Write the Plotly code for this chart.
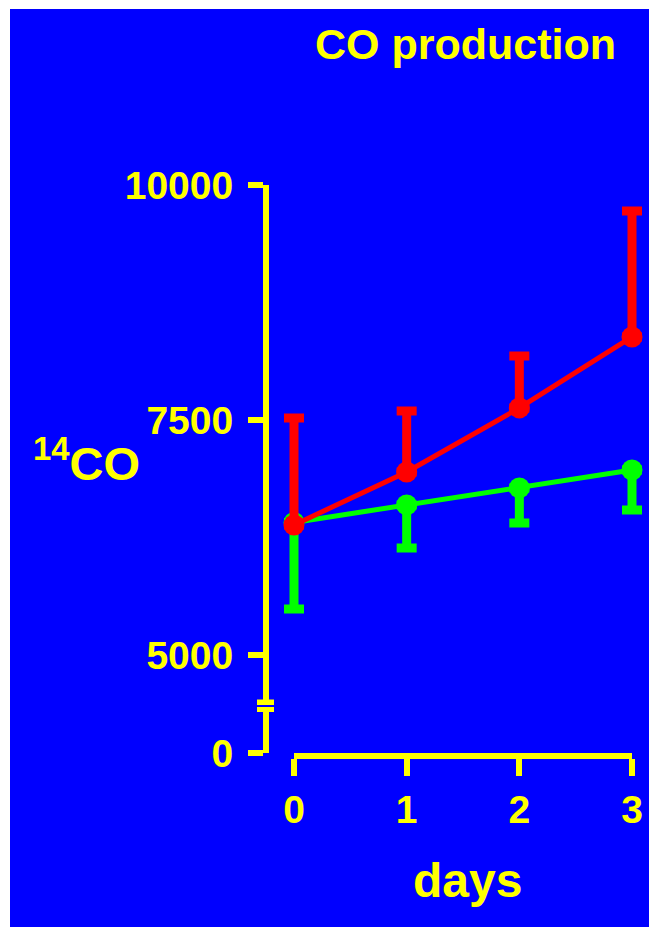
import plotly.graph_objects as go

# ---------------- data ----------------
days = [0, 1, 2, 3]
red_mean = [6383, 6947, 7628, 8383]
red_err_up = [1138, 649, 553, 1340]
green_mean = [6410, 6596, 6777, 6968]
green_err_down = [920, 458, 373, 425]

x_tick_vals = [0, 1, 2, 3]
x_tick_text = ["0", "1", "2", "3"]
# broken y axis: the "0" tick sits at the bottom of the axis, below the break
Y_ZERO_POS = 3957
y_tick_vals = [Y_ZERO_POS, 5000, 7500, 10000]
y_tick_text = ["0", "5000", "7500", "10000"]

title_text = "CO production"
x_title = "days"
y_title = "<sup>14</sup>CO"

# ---------------- layout geometry (page pixels) ----------------
PAGE_W, PAGE_H = 657, 927
OFF = 8                      # default body margin of the html page
W, H = PAGE_W - OFF, PAGE_H - OFF
PLOT_L, PLOT_R, PLOT_T, PLOT_B = 269, 654, 185, 753   # page px
L, R, T, B = PLOT_L - OFF, PAGE_W - PLOT_R, PLOT_T - OFF, PAGE_H - PLOT_B
PW, PH = PLOT_R - PLOT_L, PLOT_B - PLOT_T
X0_PX, X3_PX = 294, 632      # page px of day 0 and day 3

def px_x(p):
    return (p - PLOT_L) / PW

def px_y(q):
    return (PLOT_B - q) / PH

unit = (X3_PX - X0_PX) / 3
x_lo = -(X0_PX - PLOT_L) / unit
x_hi = 3 + (PLOT_R - X3_PX) / unit

BLUE = "#0000FF"
YEL = "#FFFF00"
RED = "#FF0000"
GRN = "#00FF00"
FONT = "Liberation Sans, Arial, sans-serif"

fig = go.Figure()

# empty trace so that the (shorter) day axis gets drawn
fig.add_trace(go.Scatter(x=[], y=[], xaxis="x2", yaxis="y",
                         showlegend=False, hoverinfo="skip"))
fig.add_trace(go.Scatter(
    x=days, y=green_mean, mode="lines+markers",
    line=dict(color=GRN, width=5),
    marker=dict(color=GRN, size=21),
    error_y=dict(type="data", symmetric=False, array=[0, 0, 0, 0],
                 arrayminus=green_err_down, color=GRN, thickness=9, width=10),
    showlegend=False, cliponaxis=False, hoverinfo="x+y",
))
fig.add_trace(go.Scatter(
    x=days, y=red_mean, mode="lines+markers",
    line=dict(color=RED, width=5),
    marker=dict(color=RED, size=21),
    error_y=dict(type="data", symmetric=False, array=red_err_up,
                 arrayminus=[0, 0, 0, 0], color=RED, thickness=9, width=10),
    showlegend=False, cliponaxis=False, hoverinfo="x+y",
))

tickfont = dict(family=FONT, size=39, color=YEL, weight="bold")

shapes = [
    # blue panel
    dict(type="rect", xref="paper", yref="paper", layer="below",
         x0=px_x(10), x1=px_x(PAGE_W + 5), y0=px_y(PAGE_H + 5), y1=px_y(9),
         fillcolor=BLUE, line=dict(width=0)),
    # axis break
    dict(type="rect", xref="paper", yref="paper", layer="above",
         x0=px_x(255), x1=px_x(275), y0=px_y(708), y1=px_y(704),
         fillcolor=BLUE, line=dict(width=0)),
    dict(type="rect", xref="paper", yref="paper", layer="above",
         x0=px_x(257), x1=px_x(274), y0=px_y(705), y1=px_y(699.5),
         fillcolor=YEL, line=dict(width=0)),
    dict(type="rect", xref="paper", yref="paper", layer="above",
         x0=px_x(257), x1=px_x(274), y0=px_y(712), y1=px_y(707),
         fillcolor=YEL, line=dict(width=0)),
]

annotations = [
    dict(text=title_text, xref="paper", yref="paper", x=px_x(465), y=px_y(44),
         xanchor="center", yanchor="middle", showarrow=False,
         font=dict(family=FONT, size=43, color=YEL, weight="bold")),
    dict(text=x_title, xref="paper", yref="paper", x=px_x(467), y=px_y(880),
         xanchor="center", yanchor="middle", showarrow=False,
         font=dict(family=FONT, size=48, color=YEL, weight="bold")),
    dict(text=y_title, xref="paper", yref="paper", x=px_x(31), y=px_y(460),
         xanchor="left", yanchor="middle", showarrow=False,
         font=dict(family=FONT, size=47, color=YEL, weight="bold")),
]

fig.update_layout(
    width=W, height=H,
    margin=dict(l=L, r=R, t=T, b=B, pad=0),
    paper_bgcolor="white", plot_bgcolor="rgba(0,0,0,0)",
    xaxis=dict(range=[x_lo, x_hi], visible=False, fixedrange=True),
    xaxis2=dict(domain=[px_x(X0_PX), px_x(X3_PX)], range=[0, 3], anchor="y",
                side="bottom", showline=True, linecolor=YEL, linewidth=6,
                ticks="outside", ticklen=17, tickwidth=6, tickcolor=YEL,
                tickvals=x_tick_vals, ticktext=x_tick_text, tickfont=tickfont,
                showgrid=False, zeroline=False, automargin=False,
                ticklabelstandoff=0, fixedrange=True),
    yaxis=dict(range=[Y_ZERO_POS, 10000], anchor="x",
               showline=True, linecolor=YEL,
               linewidth=6, ticks="outside", ticklen=15, tickwidth=6,
               tickcolor=YEL, tickvals=y_tick_vals, ticktext=y_tick_text,
               tickfont=tickfont, showgrid=False, zeroline=False,
               automargin=False, ticklabelstandoff=7, fixedrange=True),
    shapes=shapes, annotations=annotations,
)

fig.write_html("out.html")
